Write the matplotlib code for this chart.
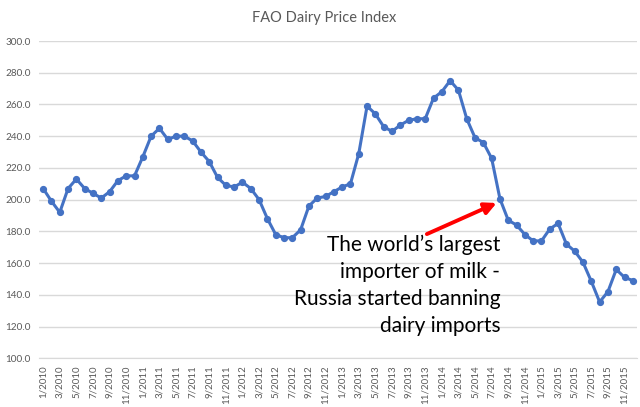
import matplotlib
matplotlib.use("Agg")
import matplotlib.pyplot as plt

months = [f"{m}/{y}" for y in range(2010, 2016) for m in range(1, 13)]
values = [
    207, 199, 192, 207, 213, 207, 204, 201, 205, 212, 215, 215,
    227, 240, 245, 238, 240, 240, 237, 230, 224, 214, 209, 208,
    211, 207, 200, 188, 178, 176, 176, 181, 196, 201, 202, 205,
    208, 210, 229, 259, 254, 246, 243, 247, 250, 251, 251, 264,
    268, 275, 269, 251, 239, 236, 226, 200.5, 187, 184, 178, 174,
    174, 181.5, 185, 172, 167.5, 160.5, 148.5, 135.5, 142, 156, 151, 149,
]
title = "FAO Dairy Price Index"
note = "The world\u2019s largest\nimporter of milk -\nRussia started banning\ndairy imports"
note_target = "8/2014"

plt.rcParams['font.family'] = ['Lato', 'DejaVu Sans']
fig = plt.figure(figsize=(6.4, 4.07), dpi=100)
ax = fig.add_axes([39/640, 1-358.3/407, 598/640, (358.3-41)/407])

x = list(range(len(months)))
ax.plot(x, values, color="#4472C4", lw=2.2, marker="o", ms=4.2,
        markerfacecolor="#4472C4", markeredgecolor="#4472C4", zorder=3)

ax.set_xlim(-0.5, len(months) - 0.5)
ax.set_ylim(100, 300)
yt = list(range(100, 301, 20))
ax.set_yticks(yt)
ax.set_yticklabels([f"{v:.1f}" for v in yt], fontsize=7.2, color="#595959")
ax.set_xticks(x[::2])
ax.set_xticklabels(months[::2], rotation=90, fontsize=7, color="#595959",
                   va="top")
ax.tick_params(axis="both", length=0, pad=6)
ax.tick_params(axis="x", pad=5)
ax.grid(axis="y", color="#D9D9D9", lw=1)
ax.set_axisbelow(True)
for s in ["top", "right", "left"]:
    ax.spines[s].set_visible(False)
ax.spines["bottom"].set_color("#D9D9D9")

fig.text(0.506, 1-18/407, title, ha="center", va="center", fontsize=10.5,
         color="#595959")

ti = months.index(note_target)
ax.annotate("", xy=(ti - 0.4, values[ti] - 2.6), xytext=(ti - 8.8, values[ti] - 22.2),
            arrowprops=dict(arrowstyle="-|>,head_length=0.7,head_width=0.35",
                            color="#FF0000", lw=2.8, shrinkA=0, shrinkB=0),
            zorder=4)
ax.text(ti + 0.05, values[ti] - 22.3, note, ha="right", va="top", fontsize=15,
        linespacing=1.45, color="#000000", zorder=5)

fig.savefig("out.png", dpi=100)
